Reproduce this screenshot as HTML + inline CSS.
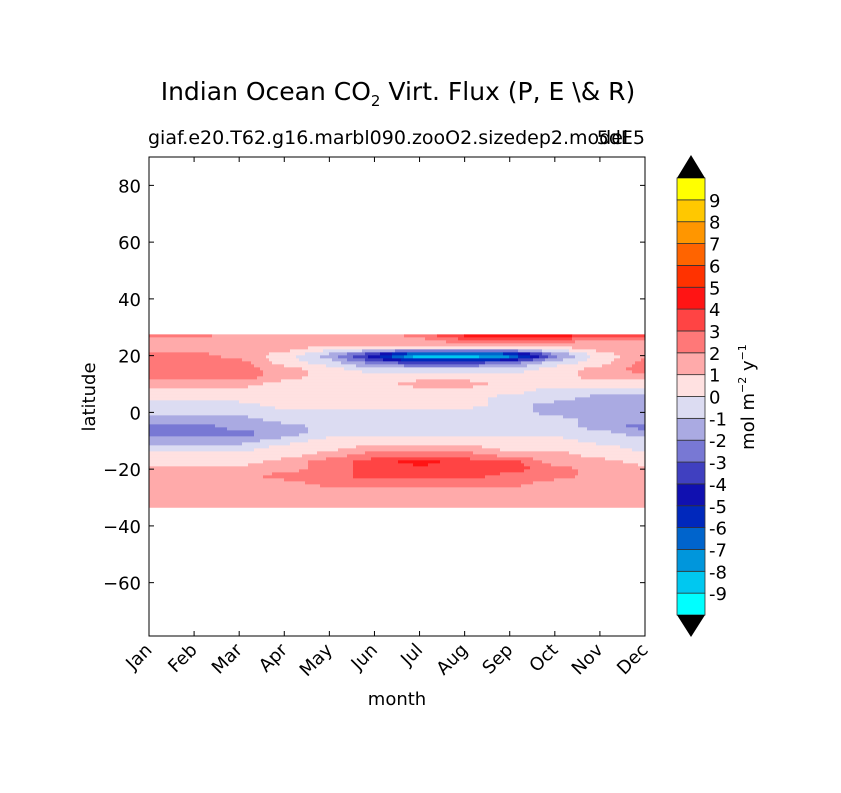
<!DOCTYPE html>
<html><head><meta charset="utf-8"><style>
body{margin:0;background:#fff;}
svg text{font-family:"DejaVu Sans","Liberation Sans",sans-serif;fill:#000;}
</style></head><body>
<svg id="chart" width="841" height="788" xmlns="http://www.w3.org/2000/svg">
<rect width="841" height="788" fill="#fff"/>
<text x="398" y="100" font-size="25" text-anchor="middle">Indian Ocean CO<tspan font-size="15" dy="6">2</tspan><tspan dy="-6"> Virt. Flux (P, E \&amp; R)</tspan></text>
<text x="148" y="144" font-size="19">giaf.e20.T62.g16.marbl090.zooO2.sizedep2.model</text>
<text x="645" y="144" font-size="19" text-anchor="end">5dE5</text>
<g id="field"></g>
<g id="axes"></g>
<g id="cbar"></g>
<text x="397" y="705" font-size="18" text-anchor="middle">month</text>
<text transform="translate(95,397) rotate(-90)" font-size="18" text-anchor="middle">latitude</text>
<text transform="translate(754,397) rotate(-90)" font-size="18" text-anchor="middle">mol m<tspan font-size="11" dy="-8">−2</tspan><tspan dy="8"> y</tspan><tspan font-size="11" dy="-8">−1</tspan></text>
</svg>
<script>
const months=["Jan","Feb","Mar","Apr","May","Jun","Jul","Aug","Sep","Oct","Nov","Dec"];
const lats=[27.5,25,22.5,20,17.5,15,12.5,10,7.5,5,2.5,0,-2.5,-5,-7.5,-10,-12.5,-15,-17.5,-20,-22.5,-25,-27.5,-30,-33.5];
const yTicks=[80,60,40,20,0,-20,-40,-60];
const levels=[-10,-9,-8,-7,-6,-5,-4,-3,-2,-1,0,1,2,3,4,5,6,7,8,9,10];
const cbarLabels=[9,8,7,6,5,4,3,2,1,0,-1,-2,-3,-4,-5,-6,-7,-8,-9];
const colors=["#00ffff","#00c8f0","#0096dc","#0064cc","#0028bc","#1010b0","#4040c0","#7878d4","#aaaae2","#dcdcf2","#ffe1e1","#ffaaaa","#ff7878","#ff4444","#ff1414","#ff3200","#ff6400","#ff9600","#ffc800","#ffff00"];
const flux=[
[2.5,2.5,1.5,1.5,1.5,1.5,2.5,4.5,4.5,4.5,4.5,3.5],
[1.5,1.5,1.5,1.5,1.5,1.5,1.5,2.5,2.5,2.5,1.5,1.5],
[1.5,1.5,1.5,1.5,0.5,0.5,0.5,0.5,0.5,0.5,1.5,1.5],
[2.5,2.5,1.5,0.5,-1.5,-5,-9.5,-9.5,-8,-2.5,0.5,1.5],
[2.5,2.5,2.5,0.5,-0.5,-2.5,-3.5,-3.5,-2.5,-0.5,0.5,2.5],
[2.5,2.5,2.5,1.5,0.5,-0.5,-0.5,-0.5,-0.5,0.5,1.5,2.5],
[2.5,2.5,2.5,1.5,0.5,0.5,0.5,0.5,0.5,0.5,1.5,1.5],
[1.5,1.5,1.5,0.5,0.5,0.5,1.5,1.5,0.5,0.5,0.5,0.5],
[0.5,0.5,0.5,0.5,0.5,0.5,0.5,0.5,0.5,-0.5,-0.5,-0.5],
[0.5,0.5,0.5,0.5,0.5,0.5,0.5,0.5,-0.5,-0.5,-1.5,-1.5],
[-0.5,-0.5,-0.5,0.5,0.5,0.5,0.5,0.5,-0.5,-1.5,-1.5,-1.5],
[-0.5,-0.5,-0.5,-0.5,-0.5,-0.5,-0.5,-0.5,-0.5,-1.5,-1.5,-1.5],
[-1.5,-1.5,-1.5,-0.5,-0.5,-0.5,-0.5,-0.5,-0.5,-0.5,-1.5,-1.5],
[-2.5,-2.5,-1.5,-1.5,-0.5,-0.5,-0.5,-0.5,-0.5,-0.5,-1.5,-2.5],
[-2.5,-2.5,-2.5,-1.5,-0.5,-0.5,-0.5,-0.5,-0.5,-0.5,-0.5,-1.5],
[-1.5,-1.5,-1.5,-0.5,0.5,0.5,0.5,0.5,0.5,0.5,-0.5,-0.5],
[-0.5,-0.5,-0.5,0.5,0.5,1.5,1.5,1.5,0.5,0.5,0.5,-0.5],
[0.5,0.5,0.5,0.5,1.5,2.5,2.5,2.5,1.5,1.5,0.5,0.5],
[0.5,0.5,0.5,1.5,2.5,3.5,4.5,3.5,3.5,1.5,1.5,0.5],
[1.5,1.5,1.5,1.5,2.5,3.5,3.5,3.5,3.5,2.5,1.5,1.5],
[1.5,1.5,1.5,2.5,2.5,3.5,3.5,3.5,2.5,2.5,1.5,1.5],
[1.5,1.5,1.5,1.5,2.5,2.5,2.5,2.5,2.5,1.5,1.5,1.5],
[1.5,1.5,1.5,1.5,1.5,1.5,1.5,1.5,1.5,1.5,1.5,1.5],
[1.5,1.5,1.5,1.5,1.5,1.5,1.5,1.5,1.5,1.5,1.5,1.5],
[1.5,1.5,1.5,1.5,1.5,1.5,1.5,1.5,1.5,1.5,1.5,1.5]];

const NS="http://www.w3.org/2000/svg";
const PL=149,PR=645,PT=157,PB=636,LMAX=90,LMIN=-78.8;
const xScale=m=>PL+(PR-PL)*m/11;
const yScale=l=>PT+(LMAX-l)*(PB-PT)/(LMAX-LMIN);
function mk(tag,attrs,parent){const e=document.createElementNS(NS,tag);for(const k in attrs)e.setAttribute(k,attrs[k]);parent.appendChild(e);return e;}
function colorFor(v){for(let i=0;i<colors.length;i++){if(v<levels[i+1])return colors[i];}return colors[colors.length-1];}
function sample(m,l){
  let r=0;while(r<lats.length-2&&l<lats[r+1])r++;
  const t=Math.min(1,Math.max(0,(lats[r]-l)/(lats[r]-lats[r+1])));
  const c=Math.min(10,Math.max(0,Math.floor(m)));const s=Math.min(1,Math.max(0,m-c));
  const a=flux[r][c]*(1-s)+flux[r][c+1]*s,b=flux[r+1][c]*(1-s)+flux[r+1][c+1]*s;
  return a*(1-t)+b*t;
}
const field=document.getElementById('field');
const y0=yScale(lats[0]),y1=yScale(lats[lats.length-1]);
const step=3;
function flushRun(x0,x1,py,col){
  const r=mk('rect',{x:x0,y:py,width:x1-x0,height:Math.min(step,y1-py)+0.3,fill:col},field);
  
  
}
for(let py=y0;py<y1;py+=step){
  const lat=LMAX-(py+step/2-PT)*(LMAX-LMIN)/(PB-PT);
  let runStart=PL,runColor=null;
  for(let px=PL;px<PR;px+=step){
    const m=(Math.min(px+step/2,PR)-PL)/(PR-PL)*11;
    const col=colorFor(sample(m,lat));
    if(col!==runColor){
      if(runColor)flushRun(runStart,px+0.3,py,runColor);
      runStart=px;runColor=col;
    }
  }
  if(runColor)flushRun(runStart,PR,py,runColor);
}
const axes=document.getElementById('axes');
const frame=mk('rect',{x:PL,y:PT,width:PR-PL,height:PB-PT,fill:'none',stroke:'#000','stroke-width':1},axes);


months.forEach((mn,i)=>{
  const x=xScale(i);
  mk('line',{x1:x,x2:x,y1:PB,y2:PB-5,stroke:'#000'},axes);
  mk('line',{x1:x,x2:x,y1:PT,y2:PT+5,stroke:'#000'},axes);
  const t=mk('text',{transform:`translate(${x+4},${PB+15}) rotate(-45)`,'font-size':18,'text-anchor':'end'},axes);
  t.textContent=mn;
  
  
});
yTicks.forEach(v=>{
  const y=yScale(v);
  mk('line',{x1:PL,x2:PL+5,y1:y,y2:y,stroke:'#000'},axes);
  mk('line',{x1:PR,x2:PR-5,y1:y,y2:y,stroke:'#000'},axes);
  const t=mk('text',{x:PL-8,y:y+7,'font-size':18,'text-anchor':'end'},axes);
  t.textContent=v<0?'\u2212'+(-v):String(v);
  
  
});
const cb=document.getElementById('cbar');
const CX=677,CW=28,CT=178,CB=615,n=colors.length,bh=(CB-CT)/n;
colors.forEach((c,i)=>{
  const r=mk('rect',{x:CX,y:CB-(i+1)*bh,width:CW,height:bh,fill:c,stroke:'#333','stroke-width':0.8},cb);
  
  
});
const tu=mk('polygon',{points:`${CX},${CT} ${CX+CW},${CT} ${CX+CW/2},155`,fill:'#000'},cb);


const td=mk('polygon',{points:`${CX},${CB} ${CX+CW},${CB} ${CX+CW/2},637`,fill:'#000'},cb);


cbarLabels.forEach(v=>{
  const idx=levels.indexOf(v);
  const y=CB-idx*bh;
  const t=mk('text',{x:709,y:y+7,'font-size':18},cb);
  t.textContent=String(v);
  
  
});
</script>
</body></html>
